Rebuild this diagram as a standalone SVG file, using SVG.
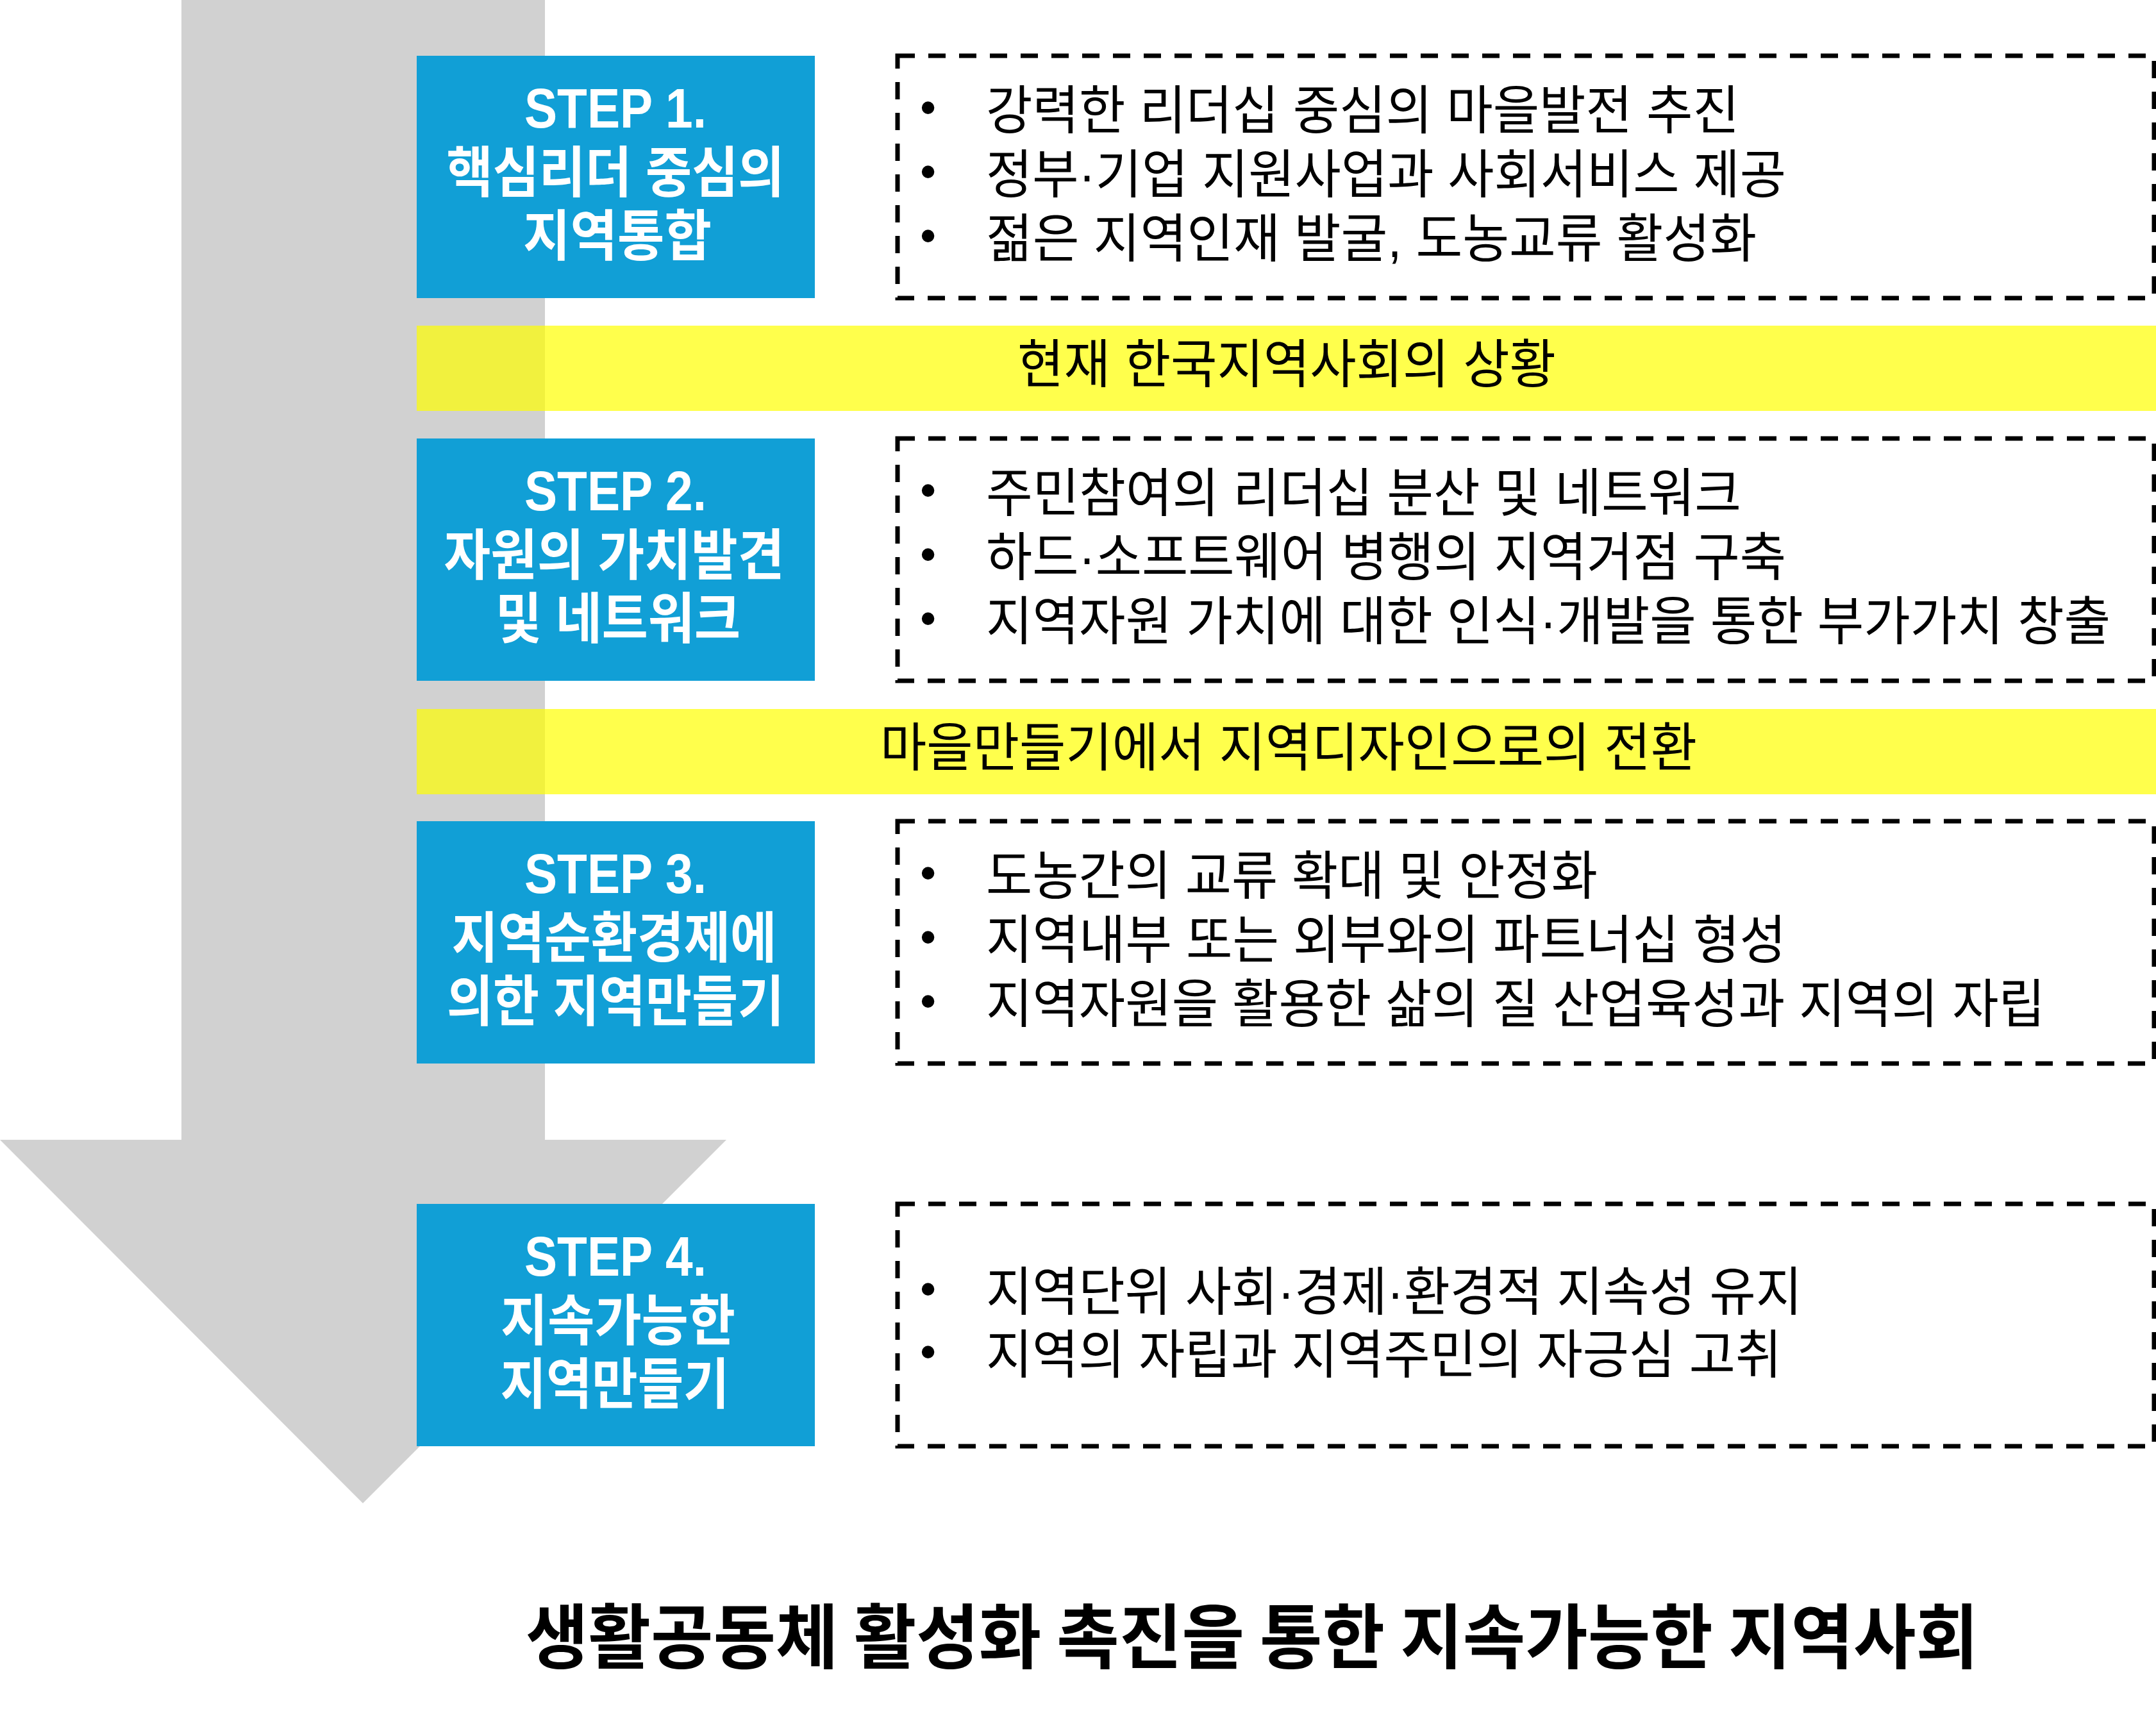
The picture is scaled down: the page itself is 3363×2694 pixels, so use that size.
<svg xmlns="http://www.w3.org/2000/svg" width="3363" height="2694" viewBox="0 0 3363 2694">
<style>
.step{fill:#119fd6}
.stxt{font-family:'Liberation Sans','Noto Sans CJK KR',sans-serif;font-weight:700;fill:#ffffff;text-anchor:middle;font-size:86px}
.cap{font-size:88px}
.box{fill:none;stroke:#000000;stroke-width:7;stroke-dasharray:27 21}
.band{fill:#ffff00;fill-opacity:0.7}
.btxt{font-family:'Liberation Sans','Noto Sans CJK KR',sans-serif;font-weight:400;fill:#000000;font-size:82px}
.mid{text-anchor:middle}
.dot{font-size:72px}
.title{font-family:'Noto Sans CJK KR','Noto Sans',sans-serif;font-weight:700;fill:#000000;font-size:110px;text-anchor:middle}
</style>
<rect width="3363" height="2694" fill="#ffffff"/>
<g id="connectors">
<polygon id="flow-arrow" points="283,0 850,0 850,1778 1133,1778 566,2345 0,1778 283,1778" fill="#d1d1d1"/>
</g>
<g id="band1">
<rect class="band" x="650" y="508" width="2713" height="133"/>
<text class="btxt mid" x="2007" y="597" textLength="840" lengthAdjust="spacingAndGlyphs">현재 한국지역사회의 상황</text>
</g>
<g id="band2">
<rect class="band" x="650" y="1106" width="2713" height="133"/>
<text class="btxt mid" x="2010" y="1195" textLength="1274" lengthAdjust="spacingAndGlyphs">마을만들기에서 지역디자인으로의 전환</text>
</g>
<g id="step1">
<rect class="step" x="650" y="87" width="621" height="378"/>
<text class="stxt"><tspan class="cap" x="960" y="199" textLength="284" lengthAdjust="spacingAndGlyphs">STEP 1.</tspan><tspan x="960" y="300" textLength="527" lengthAdjust="spacingAndGlyphs">핵심리더 중심의</tspan><tspan x="963" y="399" textLength="294" lengthAdjust="spacingAndGlyphs">지역통합</tspan></text>
</g>
<g id="step2">
<rect class="step" x="650" y="684" width="621" height="378"/>
<text class="stxt"><tspan class="cap" x="960" y="796" textLength="284" lengthAdjust="spacingAndGlyphs">STEP 2.</tspan><tspan x="958" y="897" textLength="531" lengthAdjust="spacingAndGlyphs">자원의 가치발견</tspan><tspan x="964" y="996" textLength="382" lengthAdjust="spacingAndGlyphs">및 네트워크</tspan></text>
</g>
<g id="step3">
<rect class="step" x="650" y="1281" width="621" height="378"/>
<text class="stxt"><tspan class="cap" x="960" y="1393" textLength="284" lengthAdjust="spacingAndGlyphs">STEP 3.</tspan><tspan x="958" y="1494" textLength="507" lengthAdjust="spacingAndGlyphs">지역순환경제에</tspan><tspan x="960" y="1593" textLength="526" lengthAdjust="spacingAndGlyphs">의한 지역만들기</tspan></text>
</g>
<g id="step4">
<rect class="step" x="650" y="1878" width="621" height="378"/>
<text class="stxt"><tspan class="cap" x="960" y="1990" textLength="284" lengthAdjust="spacingAndGlyphs">STEP 4.</tspan><tspan x="964" y="2091" textLength="366" lengthAdjust="spacingAndGlyphs">지속가능한</tspan><tspan x="959" y="2190" textLength="357" lengthAdjust="spacingAndGlyphs">지역만들기</tspan></text>
</g>
<g id="desc1">
<rect class="box" x="1400" y="87" width="1960" height="378"/>
<text class="btxt"><tspan class="dot" x="1435" y="192">•</tspan><tspan x="1538" y="201" textLength="1175" lengthAdjust="spacingAndGlyphs">강력한 리더십 중심의 마을발전 추진</tspan><tspan class="dot" x="1435" y="292">•</tspan><tspan x="1538" y="301" textLength="1248" lengthAdjust="spacingAndGlyphs">정부·기업 지원사업과 사회서비스 제공</tspan><tspan class="dot" x="1435" y="392">•</tspan><tspan x="1538" y="401" textLength="1202" lengthAdjust="spacingAndGlyphs">젊은 지역인재 발굴, 도농교류 활성화</tspan></text>
</g>
<g id="desc2">
<rect class="box" x="1400" y="684" width="1960" height="378"/>
<text class="btxt"><tspan class="dot" x="1435" y="789">•</tspan><tspan x="1538" y="798" textLength="1178" lengthAdjust="spacingAndGlyphs">주민참여의 리더십 분산 및 네트워크</tspan><tspan class="dot" x="1435" y="889">•</tspan><tspan x="1538" y="898" textLength="1248" lengthAdjust="spacingAndGlyphs">하드·소프트웨어 병행의 지역거점 구축</tspan><tspan class="dot" x="1435" y="989">•</tspan><tspan x="1538" y="998" textLength="1754" lengthAdjust="spacingAndGlyphs">지역자원 가치에 대한 인식·개발을 통한 부가가치 창출</tspan></text>
</g>
<g id="desc3">
<rect class="box" x="1400" y="1281" width="1960" height="378"/>
<text class="btxt"><tspan class="dot" x="1435" y="1386">•</tspan><tspan x="1538" y="1395" textLength="954" lengthAdjust="spacingAndGlyphs">도농간의 교류 확대 및 안정화</tspan><tspan class="dot" x="1435" y="1486">•</tspan><tspan x="1538" y="1495" textLength="1248" lengthAdjust="spacingAndGlyphs">지역내부 또는 외부와의 파트너십 형성</tspan><tspan class="dot" x="1435" y="1586">•</tspan><tspan x="1538" y="1595" textLength="1652" lengthAdjust="spacingAndGlyphs">지역자원을 활용한 삶의 질 산업육성과 지역의 자립</tspan></text>
</g>
<g id="desc4">
<rect class="box" x="1400" y="1878" width="1960" height="378"/>
<text class="btxt"><tspan class="dot" x="1435" y="2035">•</tspan><tspan x="1538" y="2044" textLength="1273" lengthAdjust="spacingAndGlyphs">지역단위 사회·경제·환경적 지속성 유지</tspan><tspan class="dot" x="1435" y="2133">•</tspan><tspan x="1538" y="2142" textLength="1241" lengthAdjust="spacingAndGlyphs">지역의 자립과 지역주민의 자긍심 고취</tspan></text>
</g>
<g id="title">
<text class="title" x="1953" y="2594" textLength="2266" lengthAdjust="spacingAndGlyphs">생활공동체 활성화 촉진을 통한 지속가능한 지역사회</text>
</g>
</svg>
